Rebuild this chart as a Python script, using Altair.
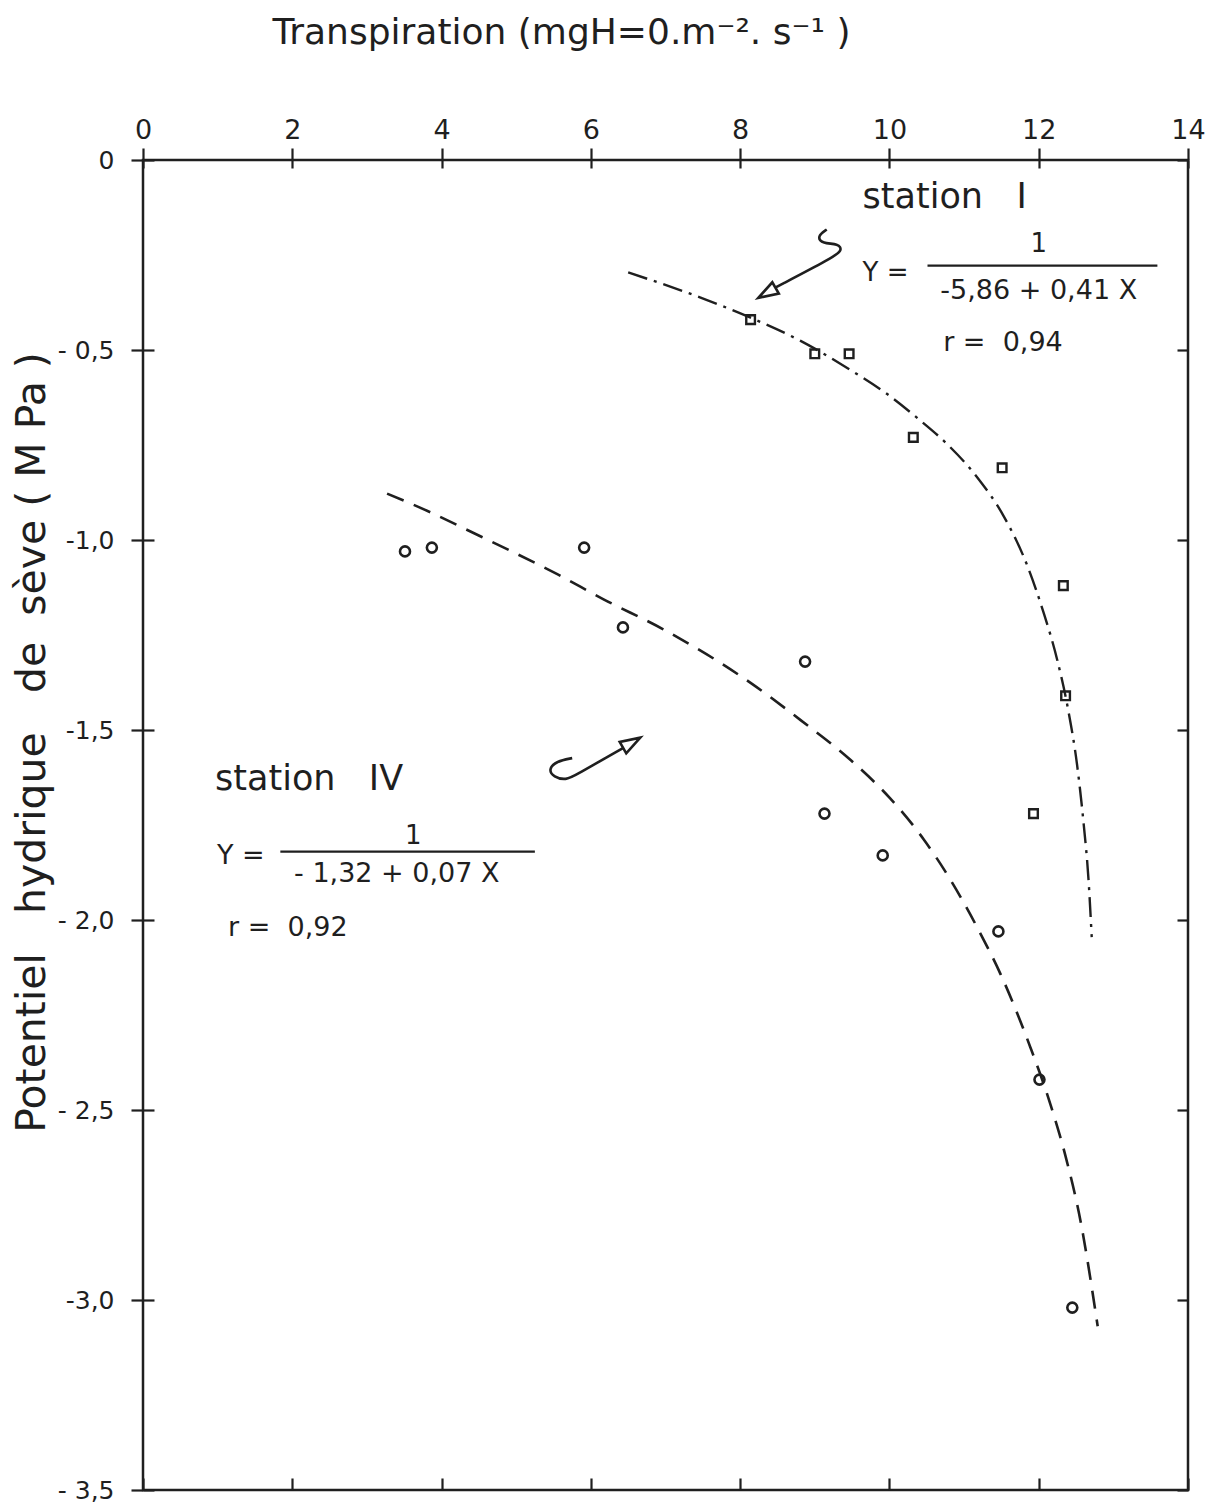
import altair as alt
import pandas as pd

# ---------------- data ----------------
# Station I (open squares)
st1_x = [8.14, 9.00, 9.46, 10.32, 11.51, 12.33, 12.36, 11.93]
st1_y = [-0.42, -0.51, -0.51, -0.73, -0.81, -1.12, -1.41, -1.72]

# Station IV (open circles)
st4_x = [3.51, 3.87, 5.91, 6.43, 8.87, 9.13, 9.91, 11.46, 12.01, 12.45]
st4_y = [-1.03, -1.02, -1.02, -1.23, -1.32, -1.72, -1.83, -2.03, -2.42, -3.02]

# fitted curve of station I as drawn (dash-dot)
fit1_x = [6.50, 7.47, 8.14, 8.81, 9.44, 9.97, 10.38, 10.78, 11.18, 11.53,
          11.85, 12.06, 12.25, 12.39, 12.52, 12.60, 12.67, 12.71]
fit1_y = [-0.296, -0.362, -0.415, -0.476, -0.548, -0.616, -0.680, -0.749,
          -0.836, -0.937, -1.069, -1.188, -1.317, -1.442, -1.601, -1.743,
          -1.902, -2.045]

# fitted curve of station IV as drawn (dashed)
fit4_x = [3.27, 3.85, 4.38, 4.96, 5.55, 6.17, 6.97, 8.14, 8.81, 9.48, 10.01,
          10.46, 10.82, 11.18, 11.49, 11.89, 12.16, 12.36, 12.56, 12.79]
fit4_y = [-0.878, -0.927, -0.977, -1.032, -1.090, -1.156, -1.235, -1.376,
          -1.474, -1.579, -1.680, -1.788, -1.895, -2.021, -2.143, -2.336,
          -2.487, -2.622, -2.792, -3.069]

# axes
x_ticks = [0, 2, 4, 6, 8, 10, 12, 14]
y_ticks = [0, -0.5, -1.0, -1.5, -2.0, -2.5, -3.0, -3.5]
y_tick_labels = ["0", "- 0,5", "-1,0", "-1,5", "- 2,0", "- 2,5", "-3,0", "- 3,5"]
x_title = "Transpiration (mgH=0.m\u207b\u00b2. s\u207b\u00b9 )"
y_title = ("Potentiel\u00a0\u00a0\u00a0hydrique\u00a0\u00a0\u00a0de\u00a0\u00a0s\u00e8ve"
           "\u00a0(\u00a0M\u00a0Pa\u00a0)")

# annotations (text)
lab_left_text = ["station\u00a0\u00a0\u00a0I", "Y =", "r =\u00a0 0,94",
                 "station\u00a0\u00a0\u00a0IV", "Y =", "r =\u00a0 0,92"]
lab_left_x = [9.64, 9.64, 10.72, 0.965, 0.99, 1.14]
lab_left_y = [-0.127, -0.318, -0.503, -1.659, -1.852, -2.042]
lab_left_fs = [35, 26, 27, 35, 27, 27]

lab_mid_text = ["1", "-5,86 + 0,41 X", "1", "- 1,32 + 0,07 X"]
lab_mid_x = [12.0, 12.0, 3.62, 3.40]
lab_mid_y = [-0.243, -0.365, -1.799, -1.899]
lab_mid_fs = [26, 27, 26, 27]

# fraction bars
bar_x = [10.51, 1.84]
bar_x2 = [13.59, 5.25]
bar_y = [-0.278, -1.820]

# hand-drawn arrows
arrow1_x = [9.16, 9.03, 9.10, 9.32, 9.37, 9.24, 8.47]
arrow1_y = [-0.183, -0.201, -0.220, -0.220, -0.238, -0.257, -0.336]
arrow4_x = [5.75, 5.54, 5.43, 5.50, 5.67, 5.79, 6.43]
arrow4_y = [-1.574, -1.582, -1.603, -1.624, -1.632, -1.619, -1.548]
head_x = [8.365, 6.54]
head_y = [-0.349, -1.534]
head_angle = [240, 60]

# ---------------- build tables ----------------
pts1 = pd.DataFrame({"x": st1_x, "y": st1_y})
pts4 = pd.DataFrame({"x": st4_x, "y": st4_y})
f1 = pd.DataFrame({"x": fit1_x, "y": fit1_y})
f4 = pd.DataFrame({"x": fit4_x, "y": fit4_y})
tl = pd.DataFrame({"x": lab_left_x, "y": lab_left_y, "t": lab_left_text, "fs": lab_left_fs})
tm = pd.DataFrame({"x": lab_mid_x, "y": lab_mid_y, "t": lab_mid_text, "fs": lab_mid_fs})
bars = pd.DataFrame({"x": bar_x, "x2": bar_x2, "y": bar_y})
arr = pd.DataFrame({
    "x": arrow1_x + arrow4_x,
    "y": arrow1_y + arrow4_y,
    "g": ["I"] * len(arrow1_x) + ["IV"] * len(arrow4_x),
    "i": list(range(len(arrow1_x))) + list(range(len(arrow4_x))),
})
heads = pd.DataFrame({"x": head_x, "y": head_y, "a": head_angle})

FONT = "DejaVu Sans"
INK = "#1f1f1f"
ARROW_SHAPE = "M0,-1L0.62,0.9L-0.62,0.9Z"

xs = alt.Scale(domain=[0, 14], nice=False, zero=False)
ys = alt.Scale(domain=[-3.5, 0], nice=False, zero=False)

ylab_expr = " : ".join(
    f"abs(datum.value - ({v})) < 1e-6 ? '{s}'" for v, s in zip(y_ticks, y_tick_labels)
) + " : ''"

x_main = alt.X("x:Q", scale=xs, title=x_title, axis=alt.Axis(
    orient="top", values=x_ticks, tickSize=12, tickWidth=2.2, tickColor=INK,
    domain=False, grid=False, labelFont=FONT, labelFontSize=27, labelColor=INK,
    labelPadding=4, labelFlush=False, labelOverlap=False,
    titleFont=FONT, titleFontSize=36, titleFontWeight="normal", titleColor=INK,
    titleX=418, titleY=-128, titleAlign="center", titleBaseline="middle"))
y_main = alt.Y("y:Q", scale=ys, title=y_title, axis=alt.Axis(
    orient="left", values=y_ticks, tickSize=12, tickWidth=2.2, tickColor=INK,
    domain=False, grid=False, labelFont=FONT, labelFontSize=25, labelColor=INK,
    labelPadding=17, labelFlush=False, labelOverlap=False, labelExpr=ylab_expr,
    titleFont=FONT, titleFontSize=41, titleFontWeight="normal", titleColor=INK,
    titleX=-111, titleY=582, titleAngle=270, titleAlign="center",
    titleBaseline="middle"))

x_top_in = alt.X("x:Q", scale=xs, title=None, axis=alt.Axis(
    orient="top", offset=-8, values=x_ticks, tickSize=8, tickWidth=2.2,
    tickColor=INK, domain=False, grid=False, labels=False))
y_left_in = alt.Y("y:Q", scale=ys, title=None, axis=alt.Axis(
    orient="left", offset=-11, values=y_ticks, tickSize=11, tickWidth=2.2,
    tickColor=INK, domain=False, grid=False, labels=False))
x_bot_in = alt.X("x:Q", scale=xs, title=None, axis=alt.Axis(
    orient="bottom", offset=-12, values=x_ticks, tickSize=12, tickWidth=2.2,
    tickColor=INK, domain=False, grid=False, labels=False))
y_right_in = alt.Y("y:Q", scale=ys, title=None, axis=alt.Axis(
    orient="right", offset=-11, values=y_ticks, tickSize=11, tickWidth=2.2,
    tickColor=INK, domain=False, grid=False, labels=False))

x_plain = alt.X("x:Q", scale=xs, axis=None)
y_plain = alt.Y("y:Q", scale=ys, axis=None)

line4 = alt.Chart(f4).mark_line(
    color=INK, strokeWidth=2.6, strokeDash=[18, 11], interpolate="monotone"
).encode(x=x_main, y=y_main)

line1 = alt.Chart(f1).mark_line(
    color=INK, strokeWidth=2.4, strokeDash=[20, 7, 3, 7], interpolate="monotone"
).encode(x=x_top_in, y=y_left_in)

circles = alt.Chart(pts4).mark_point(
    shape="circle", filled=False, color=INK, size=100, strokeWidth=2.6, opacity=1
).encode(x=x_bot_in, y=y_right_in)

squares = alt.Chart(pts1).mark_point(
    shape="square", filled=False, color=INK, size=75, strokeWidth=2.4, opacity=1
).encode(x=x_plain, y=y_plain)

text_left = alt.Chart(tl).mark_text(
    align="left", baseline="alphabetic", font=FONT, color=INK
).encode(x=x_plain, y=y_plain, text="t:N", size=alt.Size("fs:Q", scale=None))

text_mid = alt.Chart(tm).mark_text(
    align="center", baseline="alphabetic", font=FONT, color=INK
).encode(x=x_plain, y=y_plain, text="t:N", size=alt.Size("fs:Q", scale=None))

frac = alt.Chart(bars).mark_rule(color=INK, strokeWidth=2.4).encode(
    x=x_plain, x2="x2:Q", y=y_plain)

arrows = alt.Chart(arr).mark_line(
    color=INK, strokeWidth=2.6, interpolate="basis"
).encode(x=x_plain, y=y_plain, detail="g:N", order="i:Q")

arrowheads = alt.Chart(heads).mark_point(
    shape=ARROW_SHAPE, filled=False, color=INK, size=441, strokeWidth=2.6,
    opacity=1
).encode(x=x_plain, y=y_plain, angle=alt.Angle("a:Q", scale=None))

chart = alt.layer(
    line4, line1, circles, squares, text_left, text_mid, frac, arrows, arrowheads
).resolve_axis(
    x="independent", y="independent"
).properties(
    width=1045, height=1330,
    autosize=alt.AutoSizeParams(type="none"),
    padding={"left": 135, "top": 152, "right": 22, "bottom": 18},
    background="white",
).configure_view(
    stroke=INK, strokeWidth=2.5
)

chart.save("out.html", embed_options={"renderer": "svg", "actions": False})
